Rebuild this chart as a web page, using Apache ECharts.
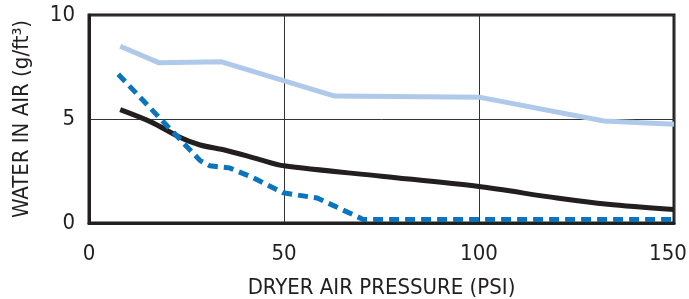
<!DOCTYPE html>
<html lang="en">
<head>
    <meta charset="UTF-8">
    <title>Water in air vs dryer air pressure</title>
    <script src="https://cdn.jsdelivr.net/npm/echarts@6/dist/echarts.min.js"></script>
</head>
<style>
    *{
        margin: 0;
        padding: 0;
    }
    html,body{
        width: 100%;
        height: 100%;
        overflow: hidden;
        background: #fff;
    }
    .container{
        width: 689px;
        height: 299px;
    }
</style>
<body>
<div class="container"></div>
<script>
    // light blue line
    let lightX=[8,18,34,63,100,132,150];
    let lightY=[8.5,7.7,7.75,6.1,6.05,4.9,4.75];
    // black line
    let blackX=[8,16,23,28.5,35,43.8,50,75,100,120,133,150];
    let blackY=[5.45,4.85,4.15,3.75,3.5,3.05,2.75,2.25,1.75,1.2,0.9,0.65];
    // dashed blue line
    let dashX=[7.5,28.5,31,36,41.8,49.8,58.5,70.3,150];
    let dashY=[7.15,3.0,2.75,2.65,2.2,1.45,1.2,0.17,0.17];
    let xTicks=[0,50,100,150];
    let yTicks=[0,5,10];

    let pairs=(xs,ys)=>xs.map((x,i)=>[x,ys[i]]);
    let font='"Liberation Sans Narrow", "DejaVu Sans Condensed", sans-serif';
    let xMax=xTicks[xTicks.length-1];

    let container=document.querySelector('.container');
    let mycharts=echarts.init(container);

    let options={
        animation:false,
        grid:{
            left:89,
            right:15,
            top:15,
            bottom:76,
            outerBoundsMode:'none',
            containLabel:false,
            show:true,
            borderColor:'#231f20',
            borderWidth:3
        },
        xAxis:{
            type:'value',
            min:xTicks[0],
            max:xMax,
            interval:50,
            name:'DRYER AIR PRESSURE (PSI)',
            nameLocation:'middle',
            nameGap:54,
            nameTextStyle:{color:'#231f20',fontSize:22,fontFamily:font},
            axisLine:{lineStyle:{color:'#231f20',width:3}},
            axisTick:{show:false},
            axisLabel:{
                color:'#231f20',fontSize:22,fontFamily:font,margin:20,
                formatter:v=>v==xMax?'{m|'+v+'}':''+v,
                rich:{m:{fontSize:22,fontFamily:font,color:'#231f20',padding:[0,12,0,0]}}
            },
            splitLine:{lineStyle:{color:'#333',width:1}}
        },
        yAxis:{
            type:'value',
            min:yTicks[0],
            max:yTicks[yTicks.length-1],
            interval:5,
            name:'WATER IN AIR (g/ft³)',
            nameLocation:'middle',
            nameGap:56,
            nameTextStyle:{color:'#231f20',fontSize:22,fontFamily:font},
            axisLine:{lineStyle:{color:'#231f20',width:3}},
            axisTick:{show:false},
            axisLabel:{color:'#231f20',fontSize:22,fontFamily:font,margin:14},
            splitLine:{lineStyle:{color:'#333',width:1}}
        },
        series:[
            {
                type:'line',
                data:pairs(lightX,lightY),
                symbol:'none',
                lineStyle:{color:'#aec9ea',width:5}
            },
            {
                type:'line',
                data:pairs(blackX,blackY),
                symbol:'none',
                smooth:0.3,
                lineStyle:{color:'#231f20',width:5}
            },
            {
                type:'line',
                data:pairs(dashX,dashY),
                symbol:'none',
                lineStyle:{color:'#0a74bc',width:5,type:[10,6]}
            }
        ]
    };
    mycharts.setOption(options);
</script>
</body>
</html>
